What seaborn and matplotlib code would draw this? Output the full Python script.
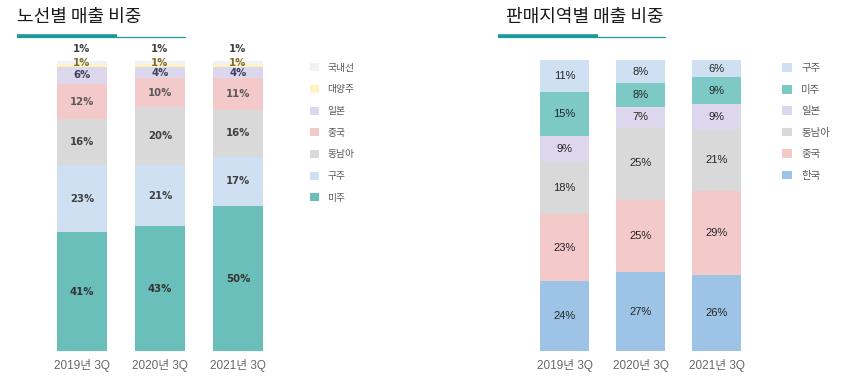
import numpy as np
import pandas as pd
import matplotlib
matplotlib.use("Agg")
import matplotlib.pyplot as plt
import seaborn as sns
from matplotlib.lines import Line2D
from matplotlib.patches import Patch

sns.set_theme(style="white")
plt.rcParams['font.family'] = ['Noto Sans CJK KR', 'DejaVu Sans']

periods = ["2019년 3Q", "2020년 3Q", "2021년 3Q"]

# Left chart: 노선별 매출 비중 (bottom -> top)
route_names = ["미주", "구주", "동남아", "중국", "일본", "대양주", "국내선"]
route_미주 = [41, 43, 50]
route_구주 = [23, 21, 17]
route_동남아 = [16, 20, 16]
route_중국 = [12, 10, 11]
route_일본 = [6, 4, 4]
route_대양주 = [1, 1, 1]
route_국내선 = [1, 1, 1]
route_values = [route_미주, route_구주, route_동남아, route_중국, route_일본, route_대양주, route_국내선]
route_colors = ["#6bbfbb", "#cfe0f3", "#d9d9d9", "#f4c9c9", "#dcd7ec", "#fff2c6", "#f2f2f2"]
route_label_colors = ["#333333", "#404040", "#404040", "#595959", "#3f3f5f", "#7f6a20", "#404040"]

# Right chart: 판매지역별 매출 비중 (bottom -> top)
region_names = ["한국", "중국", "동남아", "일본", "미주", "구주"]
region_한국 = [24, 27, 26]
region_중국 = [23, 25, 29]
region_동남아 = [18, 25, 21]
region_일본 = [9, 7, 9]
region_미주 = [15, 8, 9]
region_구주 = [11, 8, 6]
region_values = [region_한국, region_중국, region_동남아, region_일본, region_미주, region_구주]
region_colors = ["#9dc3e6", "#f4c9c9", "#d9d9d9", "#dcd7ec", "#7cc9c6", "#cfe0f3"]

W, H = 857, 382
fig = plt.figure(figsize=(W / 100, H / 100), dpi=100)


def px_axes(left, right, top, bottom):
    return fig.add_axes([left / W, 1 - bottom / H, (right - left) / W, (bottom - top) / H])


def stacked(ax, names, values, colors, width, label_colors=None, bold=False, left_style=False):
    bottoms = np.zeros(len(periods))
    for i, (name, vals) in enumerate(zip(names, values)):
        df = pd.DataFrame({"period": periods, "value": vals})
        sns.barplot(data=df, x="period", y="value", color=colors[i], width=width,
                    bottom=bottoms.copy(), ax=ax, saturation=1, linewidth=0, errorbar=None)
        for j, v in enumerate(vals):
            center = bottoms[j] + v / 2
            off = 0
            if left_style and name == "대양주":
                off = 1.5
            if left_style and name == "국내선":
                off = 10
            ax.annotate(f"{v}%", (j, center), xytext=(0, off), textcoords="offset points",
                        ha="center", va="center", fontsize=7.3 if left_style else 8,
                        fontweight="bold" if bold else "normal",
                        color=(label_colors[i] if label_colors else "#262626"),
                        family=['DejaVu Sans'] if left_style else ['Liberation Sans', 'DejaVu Sans'],
                        annotation_clip=False)
        bottoms += np.array(vals, dtype=float)
    ax.set_ylim(0, 100)
    ax.set_xlim(-0.7, 2.7)
    ax.set_xlabel("")
    ax.set_ylabel("")
    ax.set_yticks([])
    ax.tick_params(axis="x", length=0, pad=6, labelsize=8.5, labelcolor="#666666")
    for lab in ax.get_xticklabels():
        lab.set_family(['Liberation Sans', 'Noto Sans CJK KR'])
    for s in ax.spines.values():
        s.set_visible(False)
    ax.patch.set_alpha(0)


ax1 = px_axes(27.4, 292.6, 61, 351)
stacked(ax1, route_names, route_values, route_colors, 0.64, route_label_colors, bold=True, left_style=True)

ax2 = px_axes(511.3, 769.7, 60, 351)
stacked(ax2, region_names, region_values, region_colors, 0.645)

# Legends
h1 = [Patch(facecolor=route_colors[i], edgecolor="none", label=route_names[i])
      for i in range(len(route_names) - 1, -1, -1)]
fig.legend(handles=h1, loc="upper left", bbox_to_anchor=(301 / W, 1 - 54 / H), frameon=False,
           fontsize=7, labelcolor="#595959", handlelength=0.9, handleheight=0.9,
           handletextpad=0.9, labelspacing=1.2)
h2 = [Patch(facecolor=region_colors[i], edgecolor="none", label=region_names[i])
      for i in range(len(region_names) - 1, -1, -1)]
fig.legend(handles=h2, loc="upper left", bbox_to_anchor=(773 / W, 1 - 54 / H), frameon=False,
           fontsize=7.5, labelcolor="#595959", handlelength=0.9, handleheight=0.9,
           handletextpad=0.9, labelspacing=1.1)

# Titles and underlines
fig.text(17 / W, 1 - 17 / H, "노선별 매출 비중", fontsize=13, color="#1a1a1a", va="center", ha="left")
fig.text(506 / W, 1 - 17 / H, "판매지역별 매출 비중", fontsize=13, color="#1a1a1a", va="center", ha="left")
for x0, x1, x2 in [(17, 117, 185), (498, 598, 665)]:
    fig.add_artist(Line2D([x0 / W, x2 / W], [1 - 37 / H] * 2, color="#1a9a9a", lw=0.9))
    fig.add_artist(Line2D([x0 / W, x1 / W], [1 - 35.5 / H] * 2, color="#1a9a9a", lw=2.6,
                          solid_capstyle="butt"))

fig.savefig("out.png", dpi=100)
